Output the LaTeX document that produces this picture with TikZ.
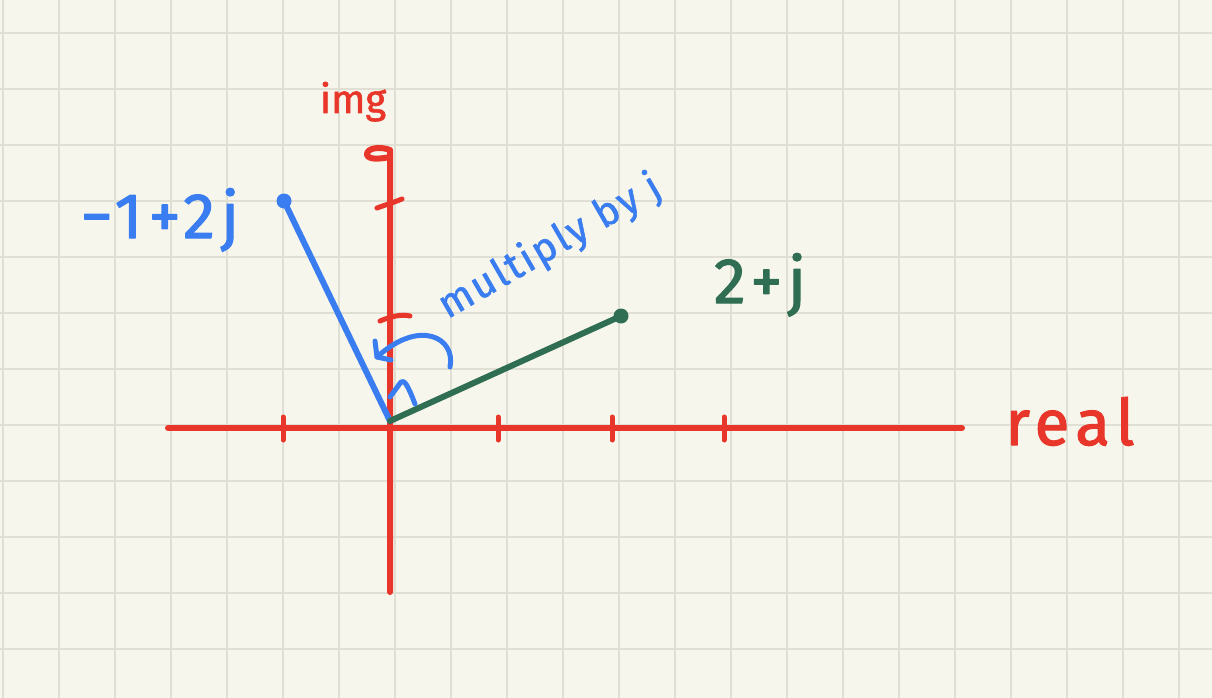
\documentclass[tikz,border=0pt]{standalone}
\usepackage{fontspec}
\setmainfont{Fira Sans}
\usetikzlibrary{arrows.meta}
\definecolor{paper}{HTML}{F7F6EC}
\definecolor{gridc}{HTML}{E0DFD4}
\definecolor{axisred}{HTML}{E8372A}
\definecolor{penblue}{HTML}{3A7DF0}
\definecolor{pengreen}{HTML}{2F6E52}
\begin{document}
\begin{tikzpicture}[x=1pt,y=-1pt, line cap=round, line join=round,
  gridline/.style={draw=gridc, line width=2.5pt},
  axis/.style={draw=axisred, line width=6pt},
  tickmark/.style={draw=axisred, line width=5pt},
  vec/.style={line width=6pt},
  pen/.style={draw=penblue, line width=5pt},
  lab/.style={inner sep=0pt, anchor=base},
  big/.style={font=\fontsize{64}{70}\selectfont\addfontfeatures{LetterSpace=10,FakeBold=1.8}},
  dotmark/.style={circle, inner sep=0pt, minimum size=15pt}]
\fill[paper] (0,0) rectangle (1212,698);
\useasboundingbox (0,0) rectangle (1212,698);
% grid
\foreach \x in {3,59,...,1211} \draw[gridline] (\x,0) -- (\x,698);
\foreach \y in {33,89,...,698} \draw[gridline] (0,\y) -- (1212,\y);
% axes
\coordinate (xl) at (168,428);
\coordinate (xr) at (962,428);
\coordinate (yt) at (390,150);
\coordinate (yb) at (390,592);
\draw[axis] (xl) -- (xr);
\draw[axis] (yb) -- (yt) .. controls (380,146) and (366,148) .. (367,155) .. controls (369,160) and (380,159) .. (390,157);
% ticks on real axis
\foreach \x in {283,498,612,724} \draw[tickmark] (\x,417) -- (\x,440);
% ticks on imaginary axis
\draw[tickmark] (377,208) .. controls (388,204) and (395,202) .. (402,199);
\draw[tickmark] (380,321) .. controls (392,316) and (402,314) .. (410,316);
% vectors
\coordinate (O) at (390,421);
\node[dotmark, fill=penblue] (P1) at (284,201) {};
\node[dotmark, fill=pengreen] (P2) at (621,316) {};
\draw[vec, draw=penblue] (O) -- (P1.center);
\draw[vec, draw=pengreen] (O) -- (P2.center);
% right angle mark
\draw[pen] (390,397) -- (401,382) .. controls (404,380) and (407,383) .. (415,404);
% rotation arc with open arrowhead
\coordinate (arcS) at (450,367);
\coordinate (arcE) at (377,357);
\draw[pen] (arcS) .. controls (456,338) and (420,318) .. (arcE);
\draw[pen] (375,341) -- (arcE) -- (391,360);
% labels
\node[lab, big, text=penblue] (lblA) at (160,238) {−1+2j};
\node[lab, big, text=pengreen] (lblB) at (760,303) {2+j};
\node[lab, big, text=axisred] (lblR) at (1070,445) {real};
\node[lab, text=axisred, font=\fontsize{40}{46}\selectfont\addfontfeatures{FakeBold=1.5}] (lblI) at (353,113) {img};
\node[inner sep=0pt, text=penblue, rotate=30, font=\fontsize{40}{44}\selectfont\addfontfeatures{LetterSpace=6,FakeBold=1.5}] (lblM) at (550,247) {multiply by j};
\end{tikzpicture}
\end{document}
